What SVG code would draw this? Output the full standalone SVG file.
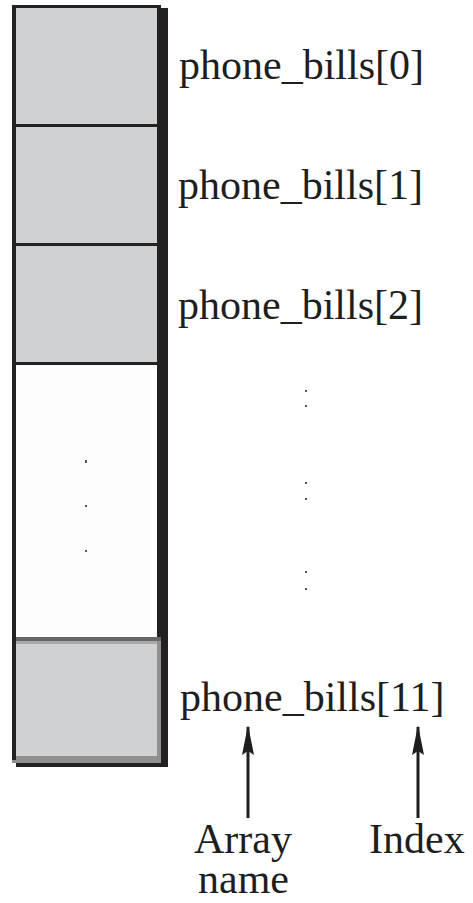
<svg xmlns="http://www.w3.org/2000/svg" width="473" height="903" viewBox="0 0 473 903">
<style>
.dk{fill:#242122}
.cell{fill:#d0d1d3}
.lbl{font-family:"Liberation Serif","Times New Roman",serif;font-size:42px;fill:#1e1e1e}
.dot{fill:#555}
.conn{stroke:#1e1e1e;stroke-width:3;fill:none}
</style>
<defs>
<marker id="ah" viewBox="0 0 30 14" refX="28" refY="7" markerWidth="30" markerHeight="14" markerUnits="userSpaceOnUse" orient="auto">
<path d="M30 7 L0 1 L4 7 L0 13 Z" fill="#1e1e1e"/>
</marker>
</defs>
<rect x="0" y="0" width="473" height="903" fill="#fff"/>
<g id="array">
<rect class="dk" x="157" y="8" width="11" height="759"/>
<rect class="dk" x="16" y="756" width="152" height="11"/>
<rect class="dk" x="12" y="5" width="149" height="4"/>
<rect class="dk" x="12" y="5" width="4" height="755"/>
<rect class="dk" x="157" y="5" width="4" height="632"/>
<g id="cell0"><rect class="cell" x="16" y="8" width="141" height="116"/></g>
<rect class="dk" x="16" y="124" width="141" height="3"/>
<g id="cell1"><rect class="cell" x="16" y="127" width="141" height="116"/></g>
<rect class="dk" x="16" y="243" width="141" height="3"/>
<g id="cell2"><rect class="cell" x="16" y="246" width="141" height="116"/></g>
<rect class="dk" x="16" y="362" width="141" height="3"/>
<g id="cellgap">
<rect x="16" y="365" width="141" height="272" fill="#fdfdfd"/>
<rect class="dot" x="85" y="460" width="2" height="3"/>
<rect class="dot" x="85" y="505" width="2" height="2"/>
<rect class="dot" x="85" y="550" width="2" height="2"/>
</g>
<g id="cell11">
<rect x="12" y="637" width="149" height="4" fill="#666"/>
<rect x="16" y="641" width="145" height="3" fill="#aaa"/>
<rect class="cell" x="16" y="644" width="141" height="112"/>
<rect x="157" y="641" width="4" height="115" fill="#909090"/>
<rect x="12" y="756" width="149" height="7" fill="#909090"/>
<rect class="dk" x="12" y="637" width="4" height="123"/>
</g>
</g>
<g id="labels">
<text class="lbl" x="179" y="79">phone_bills[0]</text>
<text class="lbl" x="178" y="199">phone_bills[1]</text>
<text class="lbl" x="178" y="319">phone_bills[2]</text>
<text class="lbl" x="180" y="711">phone_bills[11]</text>
</g>
<g id="ellipsis">
<rect class="dot" x="305" y="390" width="2" height="2"/>
<rect class="dot" x="305" y="405" width="2" height="2"/>
<rect class="dot" x="305" y="482" width="2" height="2"/>
<rect class="dot" x="305" y="498" width="2" height="2"/>
<rect class="dot" x="305" y="571" width="2" height="2"/>
<rect class="dot" x="305" y="588" width="2" height="2"/>
</g>
<g id="connectors">
<line class="conn" x1="248" y1="818" x2="248" y2="727" marker-end="url(#ah)"/>
<line class="conn" x1="418" y1="818" x2="418" y2="727" marker-end="url(#ah)"/>
</g>
<g id="arrayname">
<text class="lbl" x="194" y="853">Array</text>
<text class="lbl" x="198" y="893">name</text>
</g>
<g id="index">
<text class="lbl" x="369" y="853">Index</text>
</g>
</svg>
